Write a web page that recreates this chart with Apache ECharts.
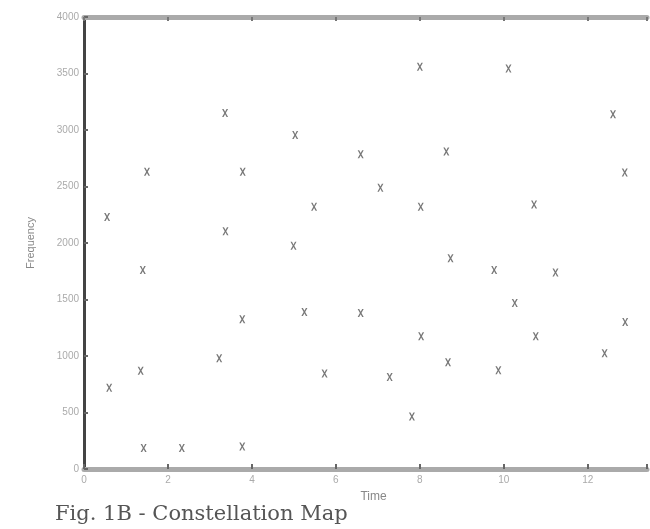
<!DOCTYPE html>
<html>
<head>
<meta charset="utf-8">
<script src="https://cdn.jsdelivr.net/npm/echarts@6/dist/echarts.min.js"></script>
<style>
html,body{margin:0;padding:0;background:#fff;}
#chart{width:650px;height:529px;}
</style>
</head>
<body>
<div id="chart"></div>
<script>
var timeValues = [0.55,0.6,1.35,1.4,1.5,1.42,2.33,3.22,3.36,3.37,3.78,3.77,3.77,5.03,4.99,5.25,5.48,5.73,6.59,6.59,7.06,7.28,7.81,8.0,8.02,8.03,8.63,8.67,8.73,9.77,9.87,10.11,10.26,10.72,10.76,11.23,12.4,12.6,12.89,12.88];
var freqValues = [2230,720,870,1760,2630,185,185,980,3150,2105,2630,1325,200,2955,1975,1390,2320,845,2785,1380,2490,815,465,3560,2320,1175,2810,945,1865,1760,875,3545,1470,2340,1175,1740,1025,3140,1300,2625];
var xTicks = [0,2,4,6,8,10,12];
var yTicks = [0,500,1000,1500,2000,2500,3000,3500,4000];
var titleText = 'Fig. 1B - Constellation Map';

var points = timeValues.map(function(t,i){return [t,freqValues[i]];});
var chart = echarts.init(document.getElementById('chart'));
chart.setOption({
  animation:false,
  backgroundColor:'#fff',
  title:{text:titleText,left:50,top:499,textStyle:{fontFamily:'DejaVu Serif',fontSize:21,fontWeight:'normal',color:'#555'}},
  grid:{left:84,top:17,width:566,height:452,containLabel:false},
  xAxis:[{
    type:'value',min:0,max:13.41,interval:2,position:'bottom',
    name:'Time',nameLocation:'middle',nameGap:22,nameTextStyle:{fontSize:12,color:'#888',fontFamily:'Liberation Sans',padding:[0,0,0,16]},
    axisLine:{show:true,lineStyle:{color:'#aaa',width:5}},
    axisTick:{show:true,inside:true,length:5,lineStyle:{color:'#666',width:2}},
    axisLabel:{show:true,fontSize:10,color:'#aaa',margin:6,formatter:function(v){return xTicks.indexOf(v)>=0?String(v):'';}},
    splitLine:{show:false}
  },{
    type:'value',min:0,max:13.41,interval:2,position:'top',
    axisLine:{show:true,lineStyle:{color:'#aaa',width:5}},
    axisTick:{show:true,inside:true,length:4,lineStyle:{color:'#777',width:2}},
    axisLabel:{show:false},splitLine:{show:false}
  }],
  yAxis:{
    type:'value',min:0,max:4000,interval:500,
    name:'Frequency',nameLocation:'middle',nameGap:48,nameRotate:90,nameTextStyle:{fontSize:11,color:'#888',fontFamily:'Liberation Sans'},
    axisLine:{show:true,lineStyle:{color:'#444',width:3}},
    axisTick:{show:true,inside:true,length:4,lineStyle:{color:'#666',width:2}},
    axisLabel:{fontSize:10,color:'#aaa',margin:5,formatter:function(v){return yTicks.indexOf(v)>=0?String(v):'';}},
    splitLine:{show:false}
  },
  series:[{
    type:'scatter',xAxisIndex:0,
    data:points,
    symbol:'path://M0,0L2.5,0L5,3.5L7.5,0L10,0L6.3,5L10,10L7.5,10L5,6.5L2.5,10L0,10L3.7,5Z',
    symbolSize:[6,8],
    itemStyle:{color:'#555'}
  }]
});
</script>
</body>
</html>
